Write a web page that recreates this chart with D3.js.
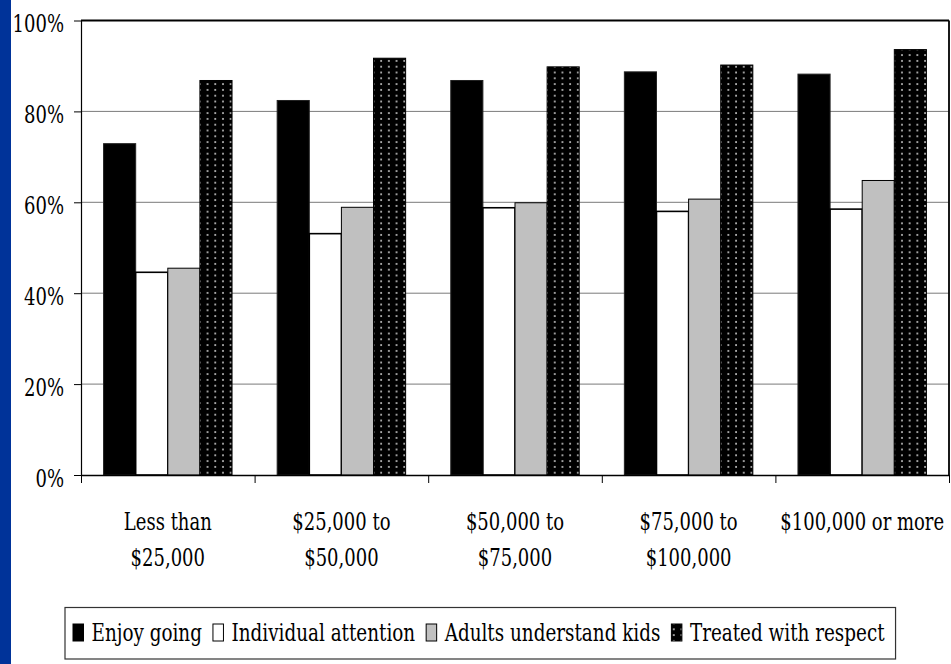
<!DOCTYPE html>
<html><head><meta charset="utf-8">
<script src="https://cdn.jsdelivr.net/npm/d3@7"></script>
<style>
html,body{margin:0;padding:0;background:#fff;}
svg{display:block;}
text{font-family:"DejaVu Serif",serif;fill:#000;}
</style></head>
<body>
<svg id="chart" width="951" height="664"></svg>
<script>
// ---- data ----
const categories = ["Less than $25,000", "$25,000 to $50,000", "$50,000 to $75,000", "$75,000 to $100,000", "$100,000 or more"];
const categoryLines = [["Less than", "$25,000"], ["$25,000 to", "$50,000"], ["$50,000 to", "$75,000"], ["$75,000 to", "$100,000"], ["$100,000 or more"]];
const seriesNames = ["Enjoy going", "Individual attention", "Adults understand kids", "Treated with respect"];
const enjoyGoing = [0.729, 0.824, 0.868, 0.887, 0.882];
const individualAttention = [0.446, 0.531, 0.588, 0.580, 0.585];
const adultsUnderstandKids = [0.455, 0.589, 0.599, 0.607, 0.648];
const treatedWithRespect = [0.868, 0.917, 0.898, 0.902, 0.936];
const yTicks = [0, 0.2, 0.4, 0.6, 0.8, 1.0];

const seriesValues = [enjoyGoing, individualAttention, adultsUnderstandKids, treatedWithRespect];
const SX = 0.72;   // horizontal text squeeze (axis labels)
const SXL = 0.735; // legend text squeeze

const svg = d3.select("#chart");
const defs = svg.append("defs");
const pat = defs.append("pattern").attr("id", "dots").attr("patternUnits", "userSpaceOnUse")
  .attr("width", 7.7).attr("height", 5.8);
pat.append("rect").attr("width", 7.7).attr("height", 5.8).attr("fill", "#000");
pat.append("rect").attr("x", 3.1).attr("y", 2.1).attr("width", 1.6).attr("height", 1.6).attr("fill", "#e6e6e6");

const fills = ["#000000", "#ffffff", "#c0c0c0", "url(#dots)"];

// left blue strip
svg.append("rect").attr("x", 0).attr("y", 0).attr("width", 11).attr("height", 664).attr("fill", "#003399");

const pLeft = 81, pRight = 949, pTop = 20.5, pBottom = 475;

const x0 = d3.scaleBand().domain(categories).range([pLeft, pRight]).paddingInner(0.26).paddingOuter(0.13);
const x1 = d3.scaleBand().domain(seriesNames).range([0, x0.bandwidth()]);
const y = d3.scaleLinear().domain([0, 1]).range([pBottom, pTop]);
const xb = d3.scaleLinear().domain([0, categories.length]).range([pLeft, pRight]);

// gridlines
svg.append("g").selectAll("line").data(yTicks.filter(d => d > 0 && d < 1)).join("line")
  .attr("x1", pLeft).attr("x2", pRight).attr("y1", d => y(d)).attr("y2", d => y(d))
  .attr("stroke", "#7a7a7a").attr("stroke-width", 1);

// bars
const rows = categories.map((c, i) => ({cat: c, vals: seriesNames.map((s, j) => ({s, j, v: seriesValues[j][i]}))}));
const g = svg.append("g").selectAll("g").data(rows).join("g")
  .attr("transform", d => `translate(${x0(d.cat)},0)`);
g.selectAll("rect").data(d => d.vals).join("rect")
  .attr("x", d => x1(d.s)).attr("width", x1.bandwidth())
  .attr("y", d => y(d.v)).attr("height", d => y(0) - y(d.v))
  .attr("fill", d => fills[d.j])
  .attr("stroke", d => d.j === 0 ? "#222" : "#000")
  .attr("stroke-width", d => d.j === 1 ? 1.6 : 1);

// plot border top/right
svg.append("line").attr("x1", pLeft).attr("x2", pRight).attr("y1", pTop).attr("y2", pTop).attr("stroke", "#000").attr("stroke-width", 1.8);
svg.append("line").attr("x1", pRight).attr("x2", pRight).attr("y1", pTop).attr("y2", pBottom).attr("stroke", "#000").attr("stroke-width", 1.8);

// y axis
const ya = svg.append("g").attr("transform", `translate(${pLeft},0)`)
  .call(d3.axisLeft(y).tickValues(yTicks).tickFormat(d3.format(".0%")).tickSize(7).tickSizeOuter(0));
ya.select(".domain").attr("stroke", "#000").attr("stroke-width", 1.2);
ya.selectAll(".tick line").attr("stroke", "#000");
ya.selectAll(".tick text").attr("font-family", "DejaVu Serif").attr("font-size", 25)
  .attr("x", -17 / SX).attr("dy", "0.45em").attr("transform", `scale(${SX},1)`).attr("fill", "#000");

// x axis boundary ticks
const xa = svg.append("g").attr("transform", `translate(0,${pBottom})`)
  .call(d3.axisBottom(xb).ticks(categories.length).tickSize(8).tickSizeOuter(0).tickFormat(""));
xa.select(".domain").attr("stroke", "#000").attr("stroke-width", 1.5);
xa.selectAll(".tick line").attr("stroke", "#000");

// category labels
const xl = svg.append("g").attr("transform", `translate(0,${pBottom})`)
  .call(d3.axisBottom(x0).tickSize(0));
xl.select(".domain").remove();
xl.selectAll(".tick text").each(function(d, i) {
  const t = d3.select(this);
  t.text(null).attr("y", 0).attr("dy", null).attr("font-family", "DejaVu Serif").attr("font-size", 25)
   .attr("transform", `scale(${SX},1)`).attr("fill", "#000").attr("text-anchor", "middle");
  categoryLines[i].forEach((ln, k) => {
    t.append("tspan").attr("x", 0).attr("y", 55 + k * 36).text(ln);
  });
});

// legend
const lg = svg.append("g");
const box = lg.append("rect").attr("x", 65).attr("y", 607.5).attr("height", 51.5)
  .attr("fill", "#fff").attr("stroke", "#333").attr("stroke-width", 1.2);
let cx = 73;
seriesNames.forEach((s, j) => {
  lg.append("rect").attr("x", cx).attr("y", 624).attr("width", 10.5).attr("height", 17)
    .attr("fill", fills[j]).attr("stroke", "#000").attr("stroke-width", 1);
  cx += 10.5 + 8;
  const t = lg.append("text").attr("font-size", 25).attr("font-family", "DejaVu Serif")
    .attr("transform", `translate(${cx},641) scale(${SXL},1)`).text(s);
  const w = t.node().getComputedTextLength() * SXL;
  cx += w + 11;
});
box.attr("width", cx - 65);
</script>
</body></html>
